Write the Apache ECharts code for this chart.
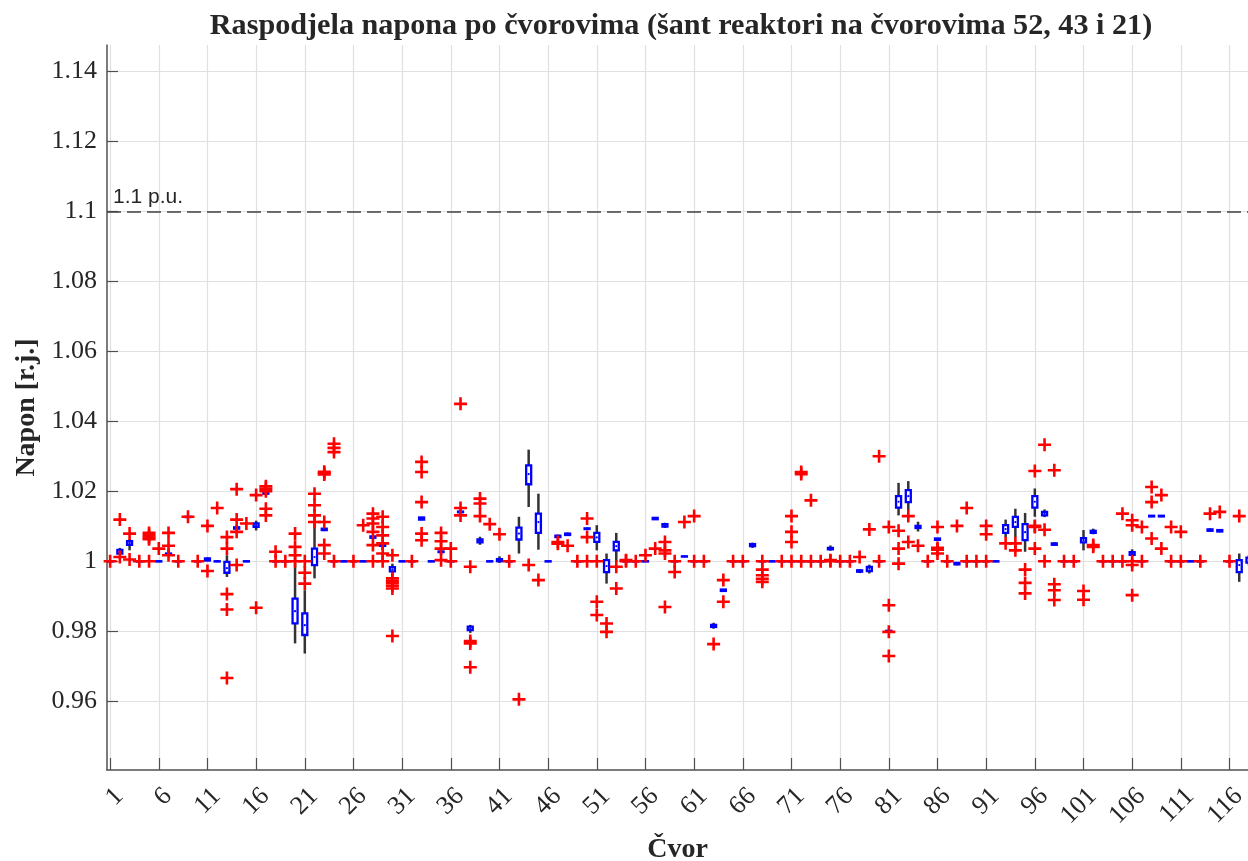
<!DOCTYPE html>
<html><head><meta charset="utf-8">
<script src="https://cdn.jsdelivr.net/npm/echarts@6/dist/echarts.min.js"></script>
<style>html,body{margin:0;padding:0;background:#fff;}#c{width:1248px;height:861px;}</style>
</head><body><div id="c"></div>
<script>
const titleText = 'Raspodjela napona po čvorovima (šant reaktori na čvorovima 52, 43 i 21)';
const xName = 'Čvor';
const yName = 'Napon [r.j.]';
const limitValue = 1.1;
const limitLabel = '1.1 p.u.';
const xTickValues = [1,6,11,16,21,26,31,36,41,46,51,56,61,66,71,76,81,86,91,96,101,106,111,116];
const yTickValues = [0.96,0.98,1,1.02,1.04,1.06,1.08,1.1,1.12,1.14];
const nodes = [];
for (let n = 1; n <= 118; n++) nodes.push(n);

// [whisker low, q1, median, q3, whisker high] per node
const boxStats = [
[1,1,1,1,1],
[1.0018,1.0022,1.0027,1.0032,1.0038],
[1.0031,1.0047,1.0052,1.0057,1.0063],
[1,1,1,1,1],
[1.0068,1.0068,1.0068,1.0068,1.0068],
[1,1,1,1,1],
[1.0022,1.0022,1.0022,1.0022,1.0022],
[1,1,1,1,1],
[1.0127,1.0127,1.0127,1.0127,1.0127],
[1,1,1,1,1],
[1.0,1.0002,1.0005,1.0008,1.0011],
[1,1,1,1,1],
[0.9955,0.9967,0.998,0.9998,1.0017],
[1.0092,1.0093,1.0095,1.0097,1.0098],
[1,1,1,1,1],
[1.0088,1.0098,1.0103,1.0108,1.0116],
[1.0192,1.0193,1.0194,1.0195,1.0196],
[1,1,1,1,1],
[1,1,1,1,1],
[0.9765,0.9822,0.9857,0.9893,0.9997],
[0.9736,0.9789,0.9817,0.9851,0.9917],
[0.9951,0.9989,1.0012,1.0036,1.0108],
[1.0086,1.0089,1.0091,1.0093,1.0096],
[1,1,1,1,1],
[1,1,1,1,1],
[1,1,1,1,1],
[1,1,1,1,1],
[1.0066,1.0067,1.0069,1.0071,1.0072],
[1.0043,1.0044,1.0046,1.0048,1.0049],
[0.9962,0.9971,0.9977,0.9983,0.9993],
[1,1,1,1,1],
[1,1,1,1,1],
[1.0117,1.0119,1.0122,1.0125,1.0127],
[1,1,1,1,1],
[1.0025,1.0026,1.0027,1.0028,1.0029],
[1,1,1,1,1],
[1.0139,1.014,1.0141,1.0142,1.0143],
[0.9795,0.9803,0.9808,0.9813,0.9818],
[1.0047,1.0054,1.0058,1.0062,1.007],
[1,1,1,1,1],
[0.9995,1.0,1.0003,1.0006,1.0014],
[1,1,1,1,1],
[1.0022,1.0062,1.0079,1.0096,1.0127],
[1.0155,1.022,1.0249,1.0274,1.0319],
[1.0033,1.0081,1.0112,1.0136,1.0193],
[1,1,1,1,1],
[1.0066,1.0069,1.0071,1.0073,1.0076],
[1.0072,1.0075,1.0077,1.0079,1.0082],
[1,1,1,1,1],
[1.0091,1.0092,1.0093,1.0094,1.0095],
[1.0031,1.0055,1.0068,1.0081,1.0103],
[0.9936,0.9969,0.9986,1.0003,1.0022],
[1.0,1.0031,1.0043,1.0055,1.0081],
[1,1,1,1,1],
[1,1,1,1,1],
[1,1,1,1,1],
[1.0118,1.012,1.0122,1.0124,1.0126],
[1.0095,1.0099,1.0103,1.0106,1.011],
[1,1,1,1,1],
[1.0013,1.0014,1.0014,1.0014,1.0015],
[1,1,1,1,1],
[1,1,1,1,1],
[0.9807,0.9812,0.9815,0.9818,0.9824],
[0.9914,0.9915,0.9917,0.9919,0.992],
[1,1,1,1,1],
[1,1,1,1,1],
[1.0038,1.0043,1.0046,1.0049,1.0053],
[1,1,1,1,1],
[1,1,1,1,1],
[1,1,1,1,1],
[1,1,1,1,1],
[1,1,1,1,1],
[1,1,1,1,1],
[1,1,1,1,1],
[1.003,1.0034,1.0036,1.0038,1.0045],
[1,1,1,1,1],
[1,1,1,1,1],
[0.9966,0.997,0.9972,0.9974,0.9977],
[0.9965,0.9972,0.9979,0.9984,0.999],
[1,1,1,1,1],
[0.9798,0.9799,0.98,0.9801,0.9802],
[1.0131,1.0153,1.017,1.0186,1.0224],
[1.0146,1.0169,1.0186,1.0203,1.0229],
[1.0085,1.0095,1.0098,1.0101,1.0113],
[1,1,1,1,1],
[1.006,1.0061,1.0063,1.0065,1.0066],
[1,1,1,1,1],
[0.9988,0.9991,0.9993,0.9995,0.9998],
[1,1,1,1,1],
[1,1,1,1,1],
[1,1,1,1,1],
[1,1,1,1,1],
[1.0069,1.0081,1.0092,1.0103,1.0119],
[1.0069,1.0098,1.0112,1.0127,1.015],
[1.0027,1.006,1.0083,1.0106,1.0138],
[1.0127,1.0153,1.017,1.0186,1.0208],
[1.0126,1.0131,1.0136,1.0141,1.0148],
[1.0044,1.0047,1.0049,1.0051,1.0054],
[1,1,1,1,1],
[1,1,1,1,1],
[1.0031,1.0054,1.006,1.0066,1.0089],
[1.0077,1.0081,1.0084,1.0087,1.0093],
[1,1,1,1,1],
[1,1,1,1,1],
[1,1,1,1,1],
[1.0012,1.0018,1.0022,1.0026,1.0034],
[1,1,1,1,1],
[1.0127,1.0128,1.0129,1.013,1.0131],
[1.0127,1.0128,1.0129,1.013,1.0131],
[1,1,1,1,1],
[1,1,1,1,1],
[1,1,1,1,1],
[1,1,1,1,1],
[1.0084,1.0087,1.0089,1.0091,1.0094],
[1.0083,1.0085,1.0087,1.0089,1.0092],
[1,1,1,1,1],
[0.9941,0.9969,0.9989,1.0003,1.0022],
[0.9988,0.9996,1.0003,1.001,1.0018]
];

// outlier values per node
const outliers = [
[1.0],
[1.0119,1.0012],
[1.0079,1.0005],
[1.0],
[1.0081,1.0074,1.0068,1.0063,1.0],
[1.0036],
[1.0081,1.0044,1.0017],
[1.0],
[1.0127],
[1.0],
[1.0101,0.9972],
[1.0152],
[1.0069,1.0036,0.9906,0.9862,0.9666],
[1.0206,1.0119,1.0084,0.9989],
[1.0108],
[1.0189,0.9867],
[1.0214,1.0207,1.02,1.015,1.0131],
[1.0027,1.0],
[1.0],
[1.0079,1.0041,1.0017,1.0],
[1.0,0.9967,0.9936],
[1.0193,1.016,1.0131,1.0112],
[1.0256,1.0252,1.0248,1.0112,1.0046,1.0022],
[1.0336,1.0324,1.0312,1.0],
[],
[1.0],
[1.0103],
[1.0136,1.0122,1.0108,1.0084,1.0046,1.0],
[1.0127,1.0098,1.0074,1.0051,1.0022,1.0],
[1.0017,0.9951,0.9944,0.9937,0.993,0.9922,0.9786],
[],
[1.0],
[1.0284,1.0255,1.0169,1.0079,1.006],
[],
[1.0081,1.0057,1.0036,1.0003],
[1.0036,1.0],
[1.045,1.0152,1.0131],
[0.9984,0.9772,0.9765,0.9697],
[1.0179,1.0165,1.0129],
[1.0106],
[1.0077],
[1.0],
[0.9605],
[0.9989],
[0.9946],
[],
[1.0055,1.005],
[1.0044],
[1.0],
[1.0122,1.0069,1.0],
[1.0,0.9884,0.9846],
[0.9822,0.9798],
[0.9984,0.9922],
[1.0003,1.0],
[1.0],
[1.0017],
[1.0036],
[1.0055,1.0031,1.0022,0.9869],
[1.0,0.9969],
[1.0112],
[1.0129,1.0],
[1.0],
[0.9763],
[0.9946,0.9884],
[1.0],
[1.0],
[],
[1.0,0.9976,0.996,0.995,0.9941],
[],
[1.0],
[1.0129,1.0084,1.0055,1.0],
[1.0255,1.0249,1.0],
[1.0174,1.0],
[1.0],
[1.0003,1.0],
[1.0],
[1.0],
[1.0012],
[1.0091],
[1.03,1.0],
[1.0098,0.9874,0.9798,0.9729],
[1.0087,1.0036,0.9993],
[1.0129,1.0055],
[1.0044],
[1.0],
[1.0098,1.0038,1.0033,1.0022],
[1.0],
[1.0101],
[1.0152,1.0],
[1.0],
[1.0101,1.0077,1.0],
[],
[1.0051],
[1.0051,1.0031],
[0.9976,0.9938,0.9908],
[1.0258,1.0101,1.0098,1.0036],
[1.0333,1.009,1.0],
[1.026,0.9934,0.9917,0.9889],
[1.0],
[1.0],
[0.9915,0.989],
[1.0046,1.0041],
[1.0],
[1.0],
[1.0136,1.0],
[1.0117,1.0103,1.0,0.9989,0.9903],
[1.0098,1.0],
[1.0212,1.0169,1.0065],
[1.0189,1.0036],
[1.0098,1.0],
[1.0084,1.0],
[],
[1.0],
[1.0136],
[1.0141],
[1.0],
[1.0129],
[0.9974]
];

const boxData = nodes.map((n, i) => [n].concat(boxStats[i]));
const outlierData = [];
nodes.forEach((n, i) => outliers[i].forEach(v => outlierData.push([n, v])));

const serif = 'Liberation Serif';
const txt = '#262626';
const axisCol = '#505050';
const gridCol = '#e0e0e0';

const chart = echarts.init(document.getElementById('c'), null, {renderer: 'canvas'});
chart.setOption({
  animation: false,
  backgroundColor: '#fff',
  title: {
    text: titleText, left: 676, top: 6, textAlign: 'center',
    textStyle: {fontFamily: serif, fontWeight: 'bold', fontSize: 30.2, color: txt}
  },
  grid: {left: 107, right: 0, top: 45, bottom: 91, containLabel: false, outerBoundsMode: 'none'},
  xAxis: {
    type: 'value', min: 0.68, max: 117.9,
    name: xName, nameLocation: 'middle', nameGap: 61,
    nameTextStyle: {fontFamily: serif, fontWeight: 'bold', fontSize: 28, color: txt},
    axisLine: {show: true, onZero: false, lineStyle: {color: axisCol, width: 1.5}},
    axisTick: {show: true, inside: true, length: 12, customValues: xTickValues, lineStyle: {color: axisCol, width: 1.2}},
    axisLabel: {customValues: xTickValues, rotate: 45, align: 'right', verticalAlign: 'top', margin: 13,
      fontFamily: serif, fontSize: 26, color: txt},
    splitLine: {show: true, lineStyle: {color: gridCol, width: 1.2}}
  },
  yAxis: {
    type: 'value', min: 0.9403, max: 1.1476,
    name: yName, nameLocation: 'middle', nameGap: 66,
    nameTextStyle: {fontFamily: serif, fontWeight: 'bold', fontSize: 28, color: txt},
    axisLine: {show: true, lineStyle: {color: axisCol, width: 1.5}},
    axisTick: {show: true, inside: true, length: 11, customValues: yTickValues, lineStyle: {color: axisCol, width: 1.2}},
    axisLabel: {customValues: yTickValues, margin: 10, fontFamily: serif, fontSize: 26, color: txt,
      formatter: v => String(Number(v.toFixed(2)))},
    splitLine: {show: true, lineStyle: {color: gridCol, width: 1.2}}
  },
  series: [
    {
      type: 'custom', data: boxData, clip: true, z: 3,
      encode: {x: 0, y: [1, 2, 3, 4, 5]},
      renderItem: function (params, api) {
        const x = api.value(0);
        const lo = api.coord([x, api.value(1)]);
        const q1 = api.coord([x, api.value(2)]);
        const md = api.coord([x, api.value(3)]);
        const q3 = api.coord([x, api.value(4)]);
        const hi = api.coord([x, api.value(5)]);
        const cx = lo[0], w = 5;
        const children = [];
        if (lo[1] - hi[1] > 0.5) {
          children.push({type: 'line', shape: {x1: cx, y1: hi[1], x2: cx, y2: lo[1]},
            style: {stroke: '#333333', lineWidth: 2.5}});
        }
        children.push({type: 'rect', shape: {x: cx - w / 2, y: q3[1], width: w, height: Math.max(q1[1] - q3[1], 0.3)},
          style: {fill: '#ffffff', stroke: '#0000ff', lineWidth: 2.3}});
        children.push({type: 'circle', shape: {cx: cx, cy: md[1], r: 1.1}, style: {fill: '#0000ff'}});
        return {type: 'group', children: children};
      }
    },
    {
      type: 'scatter', data: outlierData, z: 5, clip: true,
      symbol: 'path://M4.8,0H7.2V4.8H12V7.2H7.2V12H4.8V7.2H0V4.8H4.8Z',
      symbolSize: 13,
      itemStyle: {color: '#ff0000', opacity: 1},
      silent: true,
      markLine: {
        silent: true, symbol: ['none', 'none'],
        lineStyle: {type: [14, 6], color: '#404040', width: 1.5},
        label: {show: true, position: 'insideStartTop', formatter: limitLabel,
          fontFamily: 'Liberation Sans', fontSize: 21, color: txt, distance: [6, 4]},
        data: [{yAxis: limitValue}]
      }
    }
  ]
});
</script></body></html>
